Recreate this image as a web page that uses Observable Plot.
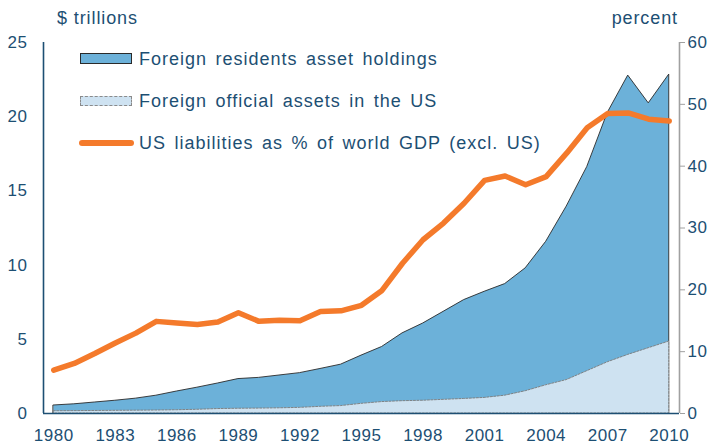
<!DOCTYPE html>
<html>
<head>
<meta charset="utf-8">
<script src="https://cdn.jsdelivr.net/npm/d3@7"></script>
<script src="https://cdn.jsdelivr.net/npm/@observablehq/plot@0.6"></script>
<style>
  html, body { margin: 0; padding: 0; background: #fff; }
  #wrap { position: relative; width: 718px; height: 447px; font-family: "Liberation Sans", Arial, sans-serif; color: #1d4f73; }
  #wrap svg { position: absolute; left: 0; top: 0; }
  .lbl { position: absolute; white-space: nowrap; line-height: 1; }
  .sw { position: absolute; box-sizing: border-box; }
</style>
</head>
<body>
<div id="wrap"></div>
<script>
const years = [1980,1981,1982,1983,1984,1985,1986,1987,1988,1989,1990,1991,1992,1993,1994,1995,1996,1997,1998,1999,2000,2001,2002,2003,2004,2005,2006,2007,2008,2009,2010];
const foreignResidents = [0.54,0.62,0.74,0.86,1.0,1.2,1.48,1.74,2.02,2.32,2.4,2.56,2.72,3.0,3.29,3.9,4.48,5.4,6.06,6.85,7.64,8.2,8.72,9.78,11.57,13.94,16.6,20.25,22.77,20.9,22.84];
const foreignOfficial = [0.15,0.16,0.17,0.18,0.19,0.2,0.22,0.25,0.3,0.32,0.33,0.35,0.38,0.45,0.5,0.65,0.77,0.83,0.86,0.92,0.98,1.05,1.2,1.5,1.9,2.25,2.85,3.45,3.95,4.4,4.85];
const liabilitiesPct = [7.0,8.1,9.7,11.4,13.0,14.9,14.65,14.4,14.8,16.3,14.9,15.1,15.0,16.5,16.6,17.5,19.9,24.3,28.1,30.8,34.0,37.7,38.4,37.0,38.3,42.1,46.2,48.5,48.6,47.6,47.3];
const leftTicks = [0,5,10,15,20,25];
const rightTicks = [0,10,20,30,40,50,60];
const xTicks = [1980,1983,1986,1989,1992,1995,1998,2001,2004,2007,2010];
const legendLabels = ["Foreign residents asset holdings","Foreign official assets in the US","US liabilities as % of world GDP (excl. US)"];

const leftMax = 25, rightMax = 60;
const toLeft = v => v * leftMax / rightMax;
const data = years.map((year, i) => ({year, total: foreignResidents[i], official: foreignOfficial[i], pct: liabilitiesPct[i]}));

const textColor = "#1d4f73";
const chart = Plot.plot({
  width: 718, height: 447,
  marginLeft: 43, marginRight: 39, marginTop: 42, marginBottom: 34,
  x: {domain: [1979.5, 2010.5]},
  y: {domain: [0, leftMax]},
  style: {fontFamily: "'Liberation Sans', Arial, sans-serif", fontSize: "17px", color: textColor, background: "white", letterSpacing: "0.5px"},
  marks: [
    Plot.areaY(data, {x: "year", y: "total", fill: "#6cb1d9", stroke: "#2a2a2a", strokeWidth: 0.9}),
    Plot.areaY(data, {x: "year", y: "official", fill: "#cee2f1", stroke: "#7a7a7a", strokeWidth: 0.9, strokeDasharray: "2,1.5"}),
    Plot.lineY(data, {x: "year", y: d => toLeft(d.pct), stroke: "#f47a2b", strokeWidth: 5.5, strokeLinejoin: "round", strokeLinecap: "round"}),
    Plot.ruleY([0], {stroke: textColor, strokeWidth: 1.6}),
    Plot.ruleX([1979.5], {stroke: textColor, strokeWidth: 1.6}),
    Plot.ruleX([2010.5], {stroke: "#a0a0a0", strokeWidth: 1.6}),
    Plot.axisY(leftTicks, {anchor: "left", tickSize: 0, tickPadding: 16, label: null, fill: textColor}),
    Plot.axisY(rightTicks.map(toLeft), {anchor: "right", tickSize: 5, tickPadding: 3, label: null, stroke: "#a0a0a0", fill: textColor, tickFormat: d => String(Math.round(d * rightMax / leftMax))}),
    Plot.axisX(xTicks, {tickSize: 0, tickPadding: 15, label: null, fill: textColor, tickFormat: d => String(d)})
  ]
});

const wrap = document.getElementById("wrap");
wrap.appendChild(chart);

function addLabel(text, opts) {
  const el = document.createElement("div");
  el.className = "lbl";
  el.textContent = text;
  Object.assign(el.style, opts);
  wrap.appendChild(el);
  return el;
}
function addSwatch(opts) {
  const el = document.createElement("div");
  el.className = "sw";
  Object.assign(el.style, opts);
  wrap.appendChild(el);
}

addLabel("$ trillions", {left: "57px", top: "9px", fontSize: "18px", letterSpacing: "0.9px"});
addLabel("percent", {right: "40px", top: "9px", fontSize: "18px", letterSpacing: "0.9px"});

const legendCenters = [59, 100.5, 142.5];
const fs = 18;
addSwatch({left: "80px", top: "53px", width: "52px", height: "11px", background: "#6cb1d9", border: "1.2px solid #2a2a2a"});
addSwatch({left: "80px", top: "95.5px", width: "52px", height: "10.5px", background: "#cee2f1", border: "1px dashed #8a8a8a"});
addSwatch({left: "79px", top: "139.5px", width: "55px", height: "6px", background: "#f47a2b", borderRadius: "3px"});
legendLabels.forEach((t, i) => {
  addLabel(t, {left: "139px", top: (legendCenters[i] - 0.49 * fs) + "px", fontSize: fs + "px", letterSpacing: "1px", wordSpacing: "2.5px"});
});
</script>
</body>
</html>
